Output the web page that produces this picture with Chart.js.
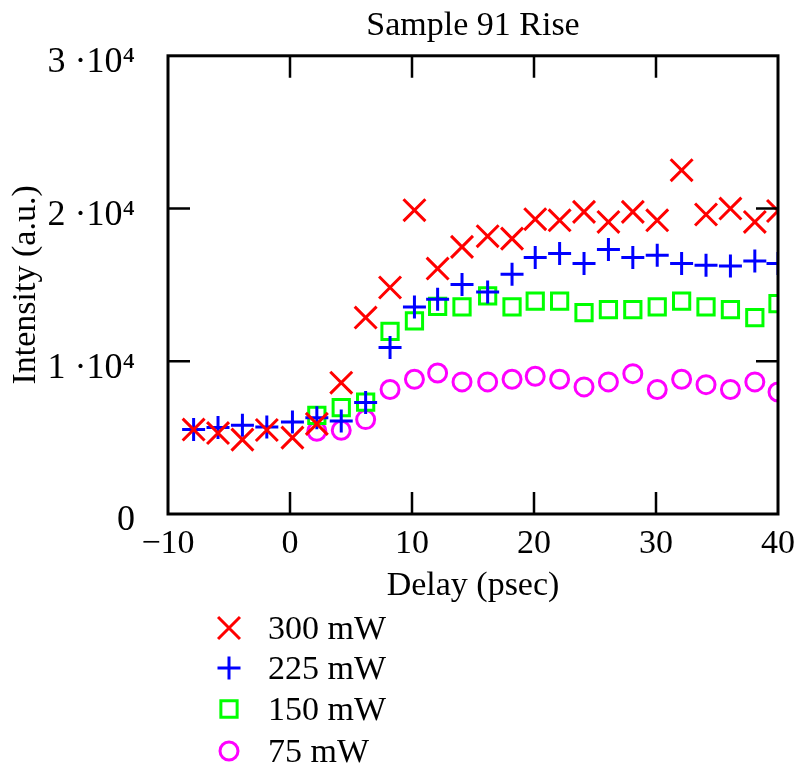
<!DOCTYPE html>
<html>
<head>
<meta charset="utf-8">
<script src="https://cdn.jsdelivr.net/npm/chart.js@4/dist/chart.umd.min.js"></script>
<style>
  html, body { margin: 0; padding: 0; background: #fff; }
  #wrap { width: 805px; height: 769px; position: relative; }
</style>
</head>
<body>
<div id="wrap"><canvas id="chart"></canvas></div>
<script>
// Sample 91 rise - intensity vs delay
const delay = [-7.9, -5.9, -3.9, -1.9, 0.2, 2.2, 4.2, 6.2, 8.2, 10.2, 12.1, 14.1, 16.2,
               18.2, 20.1, 22.1, 24.1, 26.1, 28.1, 30.1, 32.1, 34.1, 36.1, 38.1, 40.0];

const p300 = [5530, 5300, 4870, 5500, 5000, 5900, 8600, 12860, 14830, 19890, 16070, 17490, 18190,
              18030, 19300, 19230, 19780, 19120, 19780, 19230, 22510, 19610, 20000, 19120, 19840];
const p225 = [5530, 5660, 5810, 5700, 6020, 6310, 6090, 7300, 10900, 13560, 14060, 15020, 14540,
              15700, 16790, 17050, 16400, 17310, 16790, 16940, 16400, 16290, 16240, 16570, 16400];
const p150 = [null, null, null, null, null, 6460, 6970, 7330, 11960, 12640, 13600, 13560, 14280,
              13560, 13930, 13930, 13190, 13380, 13380, 13560, 13930, 13560, 13380, 12860, 13780];
const p75  = [null, null, null, null, null, 5420, 5480, 6180, 8150, 8820, 9230, 8650, 8650,
              8820, 9020, 8820, 8320, 8650, 9190, 8150, 8820, 8470, 8150, 8650, 7990];

const seriesNames = ['300 mW', '225 mW', '150 mW', '75 mW'];
const xTicks = [-10, 0, 10, 20, 30, 40];
const yTicks = [0, 10000, 20000, 30000];

const FONT = 'Liberation Serif, Times New Roman, serif';

function toPoints(ys) {
    return delay.map((x, i) => ({ x: x, y: ys[i] }));
}

// cadre + graduations vers l'interieur
const framePlugin = {
    id: 'frame',
    afterDatasetsDraw(chart) {
        const { ctx, chartArea: a, scales } = chart;
        const len = 22;
        ctx.save();
        ctx.strokeStyle = '#000';
        ctx.lineWidth = 3;
        ctx.strokeRect(a.left, a.top, a.right - a.left, a.bottom - a.top);
        ctx.lineWidth = 2.5;
        ctx.beginPath();
        xTicks.slice(1, -1).forEach(v => {
            const px = scales.x.getPixelForValue(v);
            ctx.moveTo(px, a.bottom); ctx.lineTo(px, a.bottom - len);
            ctx.moveTo(px, a.top); ctx.lineTo(px, a.top + len);
        });
        yTicks.slice(1, -1).forEach(v => {
            const py = scales.y.getPixelForValue(v);
            ctx.moveTo(a.left, py); ctx.lineTo(a.left + len, py);
            ctx.moveTo(a.right, py); ctx.lineTo(a.right - len, py);
        });
        ctx.stroke();
        ctx.restore();
    }
};

// legende verticale sous l'axe x
const legendPlugin = {
    id: 'vlegend',
    afterDraw(chart) {
        const { ctx, chartArea: a } = chart;
        const rows = [628, 668, 709, 751];
        ctx.save();
        chart.data.datasets.forEach((ds, i) => {
            const y = rows[i];
            const mx = a.left + 61;
            ctx.strokeStyle = ds.pointBorderColor;
            ctx.fillStyle = 'rgba(0,0,0,0)';
            ctx.lineWidth = ds.pointBorderWidth;
            Chart.helpers.drawPoint(ctx, {
                pointStyle: ds.pointStyle,
                radius: ds.pointRadius,
                rotation: 0,
                borderWidth: ds.pointBorderWidth
            }, mx, y);
            ctx.fillStyle = '#000';
            ctx.font = '34px ' + FONT;
            ctx.textBaseline = 'middle';
            ctx.textAlign = 'left';
            ctx.fillText(ds.label, a.left + 100, y + 2);
        });
        ctx.restore();
    }
};

function makeSet(label, ys, color, style, r) {
    return {
        label: label,
        data: toPoints(ys),
        showLine: false,
        pointStyle: style,
        pointRadius: r,
        pointHoverRadius: r,
        pointBorderWidth: 3,
        pointBorderColor: color,
        pointBackgroundColor: 'rgba(0,0,0,0)',
        borderColor: color,
        backgroundColor: 'rgba(0,0,0,0)'
    };
}

new Chart(document.getElementById('chart'), {
    type: 'scatter',
    data: {
        datasets: [
            makeSet(seriesNames[0], p300, '#ff0000', 'crossRot', 15.5),
            makeSet(seriesNames[1], p225, '#0000ff', 'cross', 11.5),
            makeSet(seriesNames[2], p150, '#00ff00', 'rect', 11.5),
            makeSet(seriesNames[3], p75, '#ff00ff', 'circle', 9)
        ]
    },
    options: {
        responsive: true,
        maintainAspectRatio: false,
        animation: false,
        layout: { padding: { top: 0, left: 0, right: 22, bottom: 159 } },
        plugins: {
            legend: { display: false },
            tooltip: { enabled: false },
            title: {
                display: true,
                fullSize: false,
                text: 'Sample 91 Rise',
                color: '#000',
                font: { family: FONT, size: 34, weight: 'normal' },
                padding: { top: 6, bottom: 9 }
            }
        },
        scales: {
            x: {
                type: 'linear',
                min: -10,
                max: 40,
                afterBuildTicks: s => { s.ticks = xTicks.map(v => ({ value: v })); },
                afterFit: s => { s.height = 96; },
                grid: { display: false, drawTicks: false },
                border: { display: false },
                ticks: {
                    color: '#000',
                    padding: 10,
                    maxRotation: 0,
                    font: { family: FONT, size: 34 },
                    callback: v => (v < 0 ? '\u2212' + Math.abs(v) : String(v))
                },
                title: {
                    display: true,
                    text: 'Delay (psec)',
                    color: '#000',
                    font: { family: FONT, size: 34 },
                    padding: { top: 0, bottom: 4 }
                }
            },
            y: {
                type: 'linear',
                min: 0,
                max: 30000,
                afterBuildTicks: s => { s.ticks = yTicks.map(v => ({ value: v })); },
                afterFit: s => { s.width = 168; },
                grid: { display: false, drawTicks: false },
                border: { display: false },
                ticks: {
                    color: '#000',
                    padding: 33,
                    labelOffset: 7,
                    font: { family: FONT, size: 36 },
                    callback: v => (v === 0 ? '0' : (v / 10000) + ' \u00b710\u2074')
                },
                title: {
                    display: true,
                    text: 'Intensity (a.u.)',
                    color: '#000',
                    font: { family: FONT, size: 34 },
                    padding: { top: 6, bottom: 0 }
                }
            }
        }
    },
    plugins: [framePlugin, legendPlugin]
});
</script>
</body>
</html>
